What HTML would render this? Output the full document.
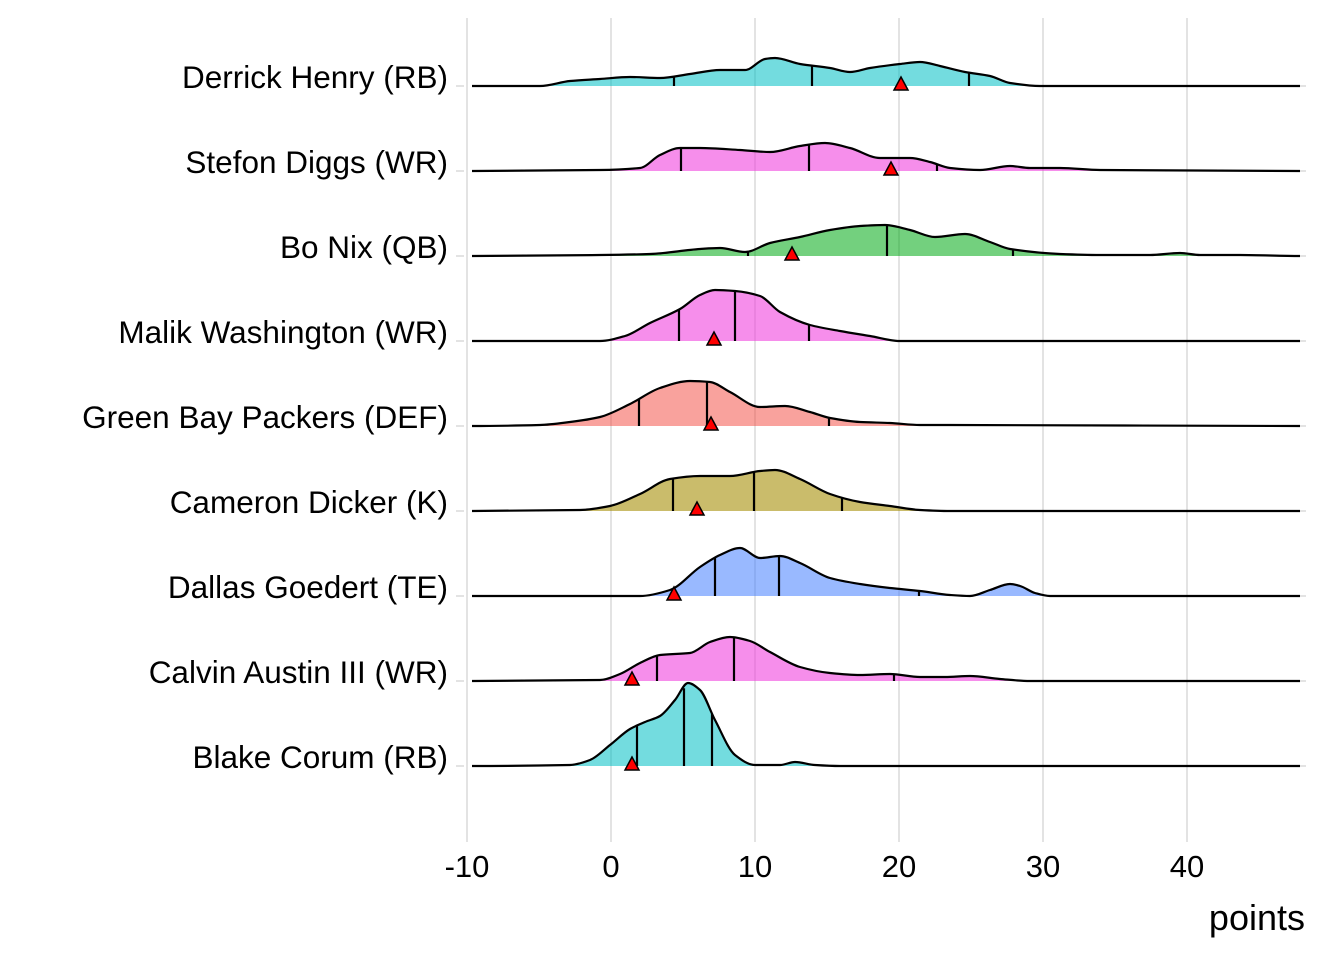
<!DOCTYPE html>
<html><head><meta charset="utf-8"><style>
html,body{margin:0;padding:0;background:#fff;}
svg{display:block;font-family:"Liberation Sans",Arial,sans-serif;}
</style></head><body>
<svg id="s" width="1344" height="960" xmlns="http://www.w3.org/2000/svg">
<g stroke="#e3e3e3" stroke-width="2">
<line x1="467" y1="18" x2="467" y2="842"/><line x1="611" y1="18" x2="611" y2="842"/>
<line x1="755" y1="18" x2="755" y2="842"/><line x1="899" y1="18" x2="899" y2="842"/>
<line x1="1043" y1="18" x2="1043" y2="842"/><line x1="1187" y1="18" x2="1187" y2="842"/>
</g>
<g id="r"></g>
<g font-size="31" fill="#000" text-anchor="middle">
<text x="467" y="877">-10</text><text x="611" y="877">0</text><text x="755" y="877">10</text>
<text x="899" y="877">20</text><text x="1043" y="877">30</text><text x="1187" y="877">40</text>
</g>
<text x="1305" y="930" font-size="36" text-anchor="end">points</text>
</svg>
<script>
const R=[
["Derrick Henry (RB)",86,"rgba(0,191,196,0.55)",[[472,86],[540,86],[570,81],[600,79],[630,77],[660,78],[690,74],[720,70],[745,70],[765,59],[775,58],[800,64],[830,68],[850,72],[870,68],[900,64],[920,62],[940,66],[965,72],[990,76],[1010,83],[1040,86],[1300,86]],[674,812,969],901],
["Stefon Diggs (WR)",171,"rgba(240,60,220,0.58)",[[472,171],[600,170],[640,168],[660,155],[680,148],[700,148],[740,150],[770,152],[800,146],[825,143],[850,148],[880,158],[910,158],[930,162],[950,168],[980,170],[1010,166],[1030,168],[1060,168],[1100,170],[1300,171]],[681,809,937],891],
["Bo Nix (QB)",256,"rgba(0,170,20,0.55)",[[472,256],[600,255],[650,254],[700,249],[720,248],[745,252],[770,243],[800,237],[830,230],[860,226],[885,225],[910,230],[935,237],[965,234],[990,242],[1010,249],[1060,254],[1100,255],[1150,255],[1180,253],[1200,255],[1240,255],[1300,256]],[748,887,1013],792],
["Malik Washington (WR)",341,"rgba(240,60,220,0.58)",[[472,341],[600,341],[625,336],[650,323],[680,309],[700,295],[715,290],[735,291],[760,296],[780,312],[810,325],[840,331],[870,336],[900,341],[1300,341]],[679,735,809],714],
["Green Bay Packers (DEF)",426,"rgba(244,70,60,0.5)",[[472,426],[540,425],[570,422],[600,417],[630,404],[660,388],[690,381],[710,382],[730,392],[760,407],[785,406],[810,412],[830,418],[860,422],[890,423],[920,425],[950,425],[1300,426]],[639,707,829],711],
["Cameron Dicker (K)",511,"rgba(163,140,0,0.58)",[[472,511],[580,510],[610,506],[640,494],[670,479],[700,476],[730,476],[760,471],[775,470],[800,479],[830,494],[860,502],[890,506],[920,510],[950,511],[1300,511]],[673,754,842],697],
["Dallas Goedert (TE)",596,"rgba(60,120,255,0.52)",[[472,596],[640,596],[670,590],[700,567],[720,555],[740,548],[760,558],[780,556],[800,563],[830,578],[860,584],[890,588],[920,591],[950,595],[970,596],[990,590],[1010,584],[1020,586],[1035,593],[1050,596],[1300,596]],[715,779,919],674],
["Calvin Austin III (WR)",681,"rgba(240,60,220,0.58)",[[472,681],[600,680],[620,674],[640,663],[660,655],[690,653],[710,642],[730,637],[750,641],[770,652],[800,667],[830,673],[860,675],[890,674],[920,677],[945,677],[970,676],[1000,679],[1030,681],[1300,681]],[657,734,894],632],
["Blake Corum (RB)",766,"rgba(0,191,196,0.55)",[[472,766],[570,765],[590,760],[610,745],[630,729],[645,722],[660,716],[675,700],[688,683],[700,690],[715,720],[735,755],[755,765],[780,765],[795,762],[815,765],[840,766],[1300,766]],[637,684,712],632]
];
function sl(p,i){const n=p.length;if(i===0||i===n-1)return 0;
const a=p[i-1],b=p[i],c=p[i+1];const m1=(b[1]-a[1])/(b[0]-a[0]),m2=(c[1]-b[1])/(c[0]-b[0]);
if(m1*m2<=0)return 0;return 2/(1/m1+1/m2);}
function cr(p){let d="M"+p[0][0]+","+p[0][1];for(let i=0;i<p.length-1;i++){const b=p[i],c=p[i+1];const dx=(c[0]-b[0])/3;
const s1=sl(p,i),s2=sl(p,i+1);
d+=" C"+(b[0]+dx)+","+(b[1]+s1*dx)+" "+(c[0]-dx)+","+(c[1]-s2*dx)+" "+c[0]+","+c[1];}return d;}
function yAt(p,x){for(let i=0;i<p.length-1;i++){if(x>=p[i][0]&&x<=p[i+1][0]){const t=(x-p[i][0])/(p[i+1][0]-p[i][0]);return p[i][1]+t*(p[i+1][1]-p[i][1]);}}return p[0][1];}
let h="";
R.forEach(r=>{const [n,b,c,p,q,t]=r;
h+=`<line x1="456" y1="${b}" x2="464" y2="${b}" stroke="#e3e3e3" stroke-width="2"/>`;
h+=`<line x1="1296" y1="${b}" x2="1306" y2="${b}" stroke="#e3e3e3" stroke-width="2"/>`;
h+=`<text x="448" y="${b+2}" font-size="31.5" text-anchor="end">${n}</text>`;
const d=cr(p);
h+=`<path d="${d} Z" fill="${c}" stroke="none"/>`;
q.forEach(x=>{h+=`<line x1="${x}" y1="${b}" x2="${x}" y2="${yAt(p,x)}" stroke="#000" stroke-width="2.2"/>`;});
h+=`<path d="${d}" fill="none" stroke="#000" stroke-width="2.2"/>`;
h+=`<polygon points="${t-7},${b+4} ${t+7},${b+4} ${t},${b-9}" fill="#f00" stroke="#000" stroke-width="1.5"/>`;
});
document.getElementById("r").innerHTML=h;
</script>
</body></html>
